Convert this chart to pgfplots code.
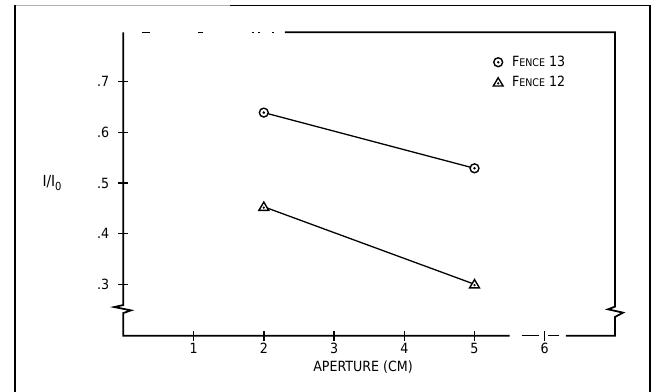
\documentclass[border=0pt]{standalone}
\usepackage{fontspec}
\setmainfont{DejaVu Sans Condensed}
\usepackage{pgfplots}
\pgfplotsset{compat=1.18}

\pgfdeclareplotmark{odot}{%
  \pgfpathcircle{\pgfpointorigin}{\pgfplotmarksize}%
  \pgfusepathqfillstroke
  \begin{pgfscope}%
  \pgfsetfillcolor{black}%
  \pgfpathcircle{\pgfpointorigin}{0.32\pgfplotmarksize}%
  \pgfusepathqfill
  \end{pgfscope}}
\pgfdeclareplotmark{tdot}{%
  \pgfpathmoveto{\pgfqpoint{0pt}{1.05\pgfplotmarksize}}%
  \pgfpathlineto{\pgfqpoint{-1.1\pgfplotmarksize}{-0.8\pgfplotmarksize}}%
  \pgfpathlineto{\pgfqpoint{1.1\pgfplotmarksize}{-0.8\pgfplotmarksize}}%
  \pgfpathclose
  \pgfusepathqfillstroke
  \begin{pgfscope}%
  \pgfsetfillcolor{black}%
  \pgfpathcircle{\pgfqpoint{0pt}{-0.2\pgfplotmarksize}}{0.28\pgfplotmarksize}%
  \pgfusepathqfill
  \end{pgfscope}}

\begin{document}
\begin{tikzpicture}
\useasboundingbox (-3.70,-1.69) rectangle (15.92,10.07);
% outer frame
\draw[gray!60, line width=0.8pt] (-3.26,9.91) -- (3.20,9.91);
\draw[black, line width=1.3pt] (3.20,9.91) -- (15.80,9.91);
\draw[black, line width=1.6pt] (-3.26,9.91) -- (-3.26,-1.9);
\draw[black, line width=1.6pt] (15.80,9.91) -- (15.80,-1.9);
\begin{axis}[
  at={(0,0)}, anchor=south west,
  width=14.75cm, height=9.10cm, scale only axis,
  xmin=0, xmax=7, ymin=0.1985, ymax=0.7975,
  clip=false,
  axis line style={draw=none},
  xtick={1,2,3,4,5,6},
  ytick={0.3,0.4,0.5,0.6,0.7},
  yticklabels={.3,.4,.5,.6,.7},
  xticklabels={1,2,3,4,5,6},
  tick pos=left,
  tick align=center,
  major tick length=0.3cm,
  tick style={black, line width=1.2pt},
  ticklabel style={font=\fontsize{12}{14}\selectfont},
  /pgf/number format/assume math mode=true,
  xticklabel style={yshift=0.05cm},
  yticklabel style={xshift=-0.15cm},
  xlabel={APERTURE (CM)},
  xlabel style={at={(axis description cs:0.4875,0)}, anchor=center, yshift=-0.94cm, font=\fontsize{12}{14}\selectfont},
  ylabel={I/I\raisebox{-0.5ex}{\fontsize{9.5}{10}\selectfont 0}},
  ylabel style={rotate=-90, at={(axis description cs:-0.145,0.503)}, anchor=center, font=\fontsize{13}{15}\selectfont},
  legend style={at={(axis description cs:0.752,0.93)}, anchor=north west, draw=none, fill=none, inner sep=0pt, row sep=0.1cm, font=\fontsize{12}{13}\selectfont},
  legend cell align=left,
  legend image code/.code={\draw[#1] plot[only marks] coordinates {(0.15cm,0cm)};},
]
\addplot[black, line width=1.1pt, mark=odot, mark size=3.8pt, mark options={fill=white, line width=1.2pt}]
  coordinates {(2,0.639) (5,0.529)};
\addlegendentry{\hspace{0.2cm}F{\fontsize{9}{10}\selectfont ENCE} 13}
\addplot[black, line width=1.1pt, mark=tdot, mark size=3.8pt, mark options={fill=white, line width=1.2pt}]
  coordinates {(2,0.453) (5,0.300)};
\addlegendentry{\hspace{0.2cm}F{\fontsize{9}{10}\selectfont ENCE} 12}
% axis frame with breaks
\draw[black, line width=1.5pt] (axis cs:0,0.7975) -- (axis cs:0,0.259)
  -- ++(-0.27cm,-0.06cm) -- ++(0.50cm,-0.10cm) -- ++(-0.23cm,-0.08cm) -- (axis cs:0,0.1985) -- (axis cs:5.5,0.1985);
\draw[black, line width=1.3pt] (axis cs:5.67,0.1985) -- (axis cs:5.92,0.1985);
\draw[black, line width=1.3pt] (axis cs:6.05,0.1985) -- (axis cs:6.2,0.1985);
\draw[black, line width=1.5pt] (axis cs:6.3,0.1985) -- (axis cs:7,0.1985) -- (axis cs:7,0.2354)
  -- ++(0.24cm,0.13cm) -- ++(-0.45cm,0.10cm) -- ++(0.21cm,0.08cm) -- (axis cs:7,0.7975) -- (axis cs:2.3,0.7975);
\draw[black, line width=1.2pt] (axis cs:0.26,0.7975) -- (axis cs:0.38,0.7975);
\draw[black, line width=1.2pt] (axis cs:1.06,0.7975) -- (axis cs:1.13,0.7975);
\draw[black, line width=1.0pt] (axis cs:1.83,0.7975) -- (axis cs:1.86,0.7975);
\draw[black, line width=1.0pt] (axis cs:1.92,0.7975) -- (axis cs:1.95,0.7975);
\draw[black, line width=1.0pt] (axis cs:2.12,0.7975) -- (axis cs:2.15,0.7975);
\end{axis}
\end{tikzpicture}
\end{document}
